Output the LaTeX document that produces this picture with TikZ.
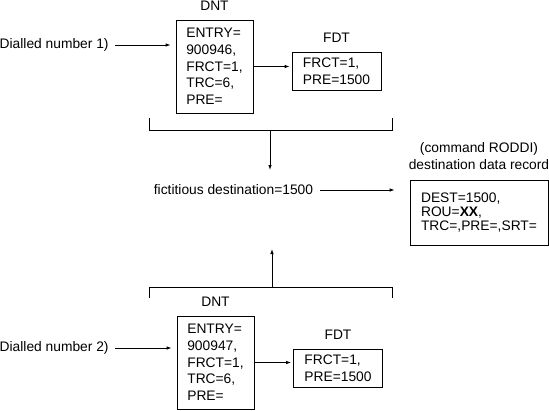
\documentclass[tikz,border=0pt]{standalone}
\usepackage{fontspec}
\setmainfont{Liberation Sans}
\usetikzlibrary{positioning,arrows.meta}
\begin{document}
\begin{tikzpicture}[
  x=1pt, y=-1pt, line width=0.8pt,
  every node/.style={font=\fontsize{13.8}{16.7}\selectfont},
  dntbox/.style={draw, align=left, inner sep=0pt, minimum width=77pt, minimum height=93pt},
  fdtbox/.style={draw, align=left, inner sep=0pt, minimum width=89pt, minimum height=38pt},
  recbox/.style={draw, align=left, inner sep=0pt, minimum width=138pt, minimum height=65pt, font=\fontsize{13.8}{14.3}\selectfont},
  lbl/.style={inner sep=0pt},
  arr/.style={-{Latex[length=5pt,width=3.5pt]}}
]
  \useasboundingbox (0,0) rectangle (549,410);
  \node[dntbox] (dnt1) at (214.5,66.5) {ENTRY=\\900946,\\FRCT=1,\\TRC=6,\\PRE=};
  \node[lbl, above=9pt of dnt1] (dntl1) {DNT};
  \node[lbl, anchor=east] (dial1) at (109,45) {Dialled number 1)};
  \node[fdtbox] (fdt1) at (336.5,71) {FRCT=1,\\PRE=1500};
  \node[lbl, above=9pt of fdt1] (fdtl1) {FDT};
  \node[lbl] (fict) at (233.5,190) {fictitious destination=1500};
  \node[recbox] (dest) at (479,212.5) {DEST=1500,\\ROU=\textbf{XX},\\TRC=,PRE=,SRT=};
  \node[lbl, align=center, above=10pt of dest] (destl) {(command RODDI)\\destination data record};
  \node[dntbox] (dnt2) at (215.5,362.5) {ENTRY=\\900947,\\FRCT=1,\\TRC=6,\\PRE=};
  \node[lbl, above=9pt of dnt2] (dntl2) {DNT};
  \node[lbl, anchor=east] (dial2) at (109,348) {Dialled number 2)};
  \node[fdtbox] (fdt2) at (338,368) {FRCT=1,\\PRE=1500};
  \node[lbl, above=9pt of fdt2] (fdtl2) {FDT};
  \coordinate (brk1) at (270,130);
  \coordinate (tip1) at (270,170);
  \coordinate (brk2) at (272,287);
  \coordinate (tip2) at (272,249);
  \draw (149,118) |- (392,130) -- (392,118);
  \draw (149,298) |- (392,287) -- (392,298);
  \draw[arr, shorten <=6pt, shorten >=5pt] (dial1.east) -- (dial1.east -| dnt1.west);
  \draw[arr, shorten >=2pt] (dnt1.east) -- (dnt1.east -| fdt1.west);
  \draw[arr, shorten <=6pt, shorten >=5pt] (dial2.east) -- (dial2.east -| dnt2.west);
  \draw[arr, shorten >=2pt] (dnt2.east) -- (dnt2.east -| fdt2.west);
  \draw[arr] (brk1) -- (tip1);
  \draw[arr] (brk2) -- (tip2);
  \draw[arr, shorten <=7pt, shorten >=15pt] (fict.east) -- (fict.east -| dest.west);
\end{tikzpicture}
\end{document}
